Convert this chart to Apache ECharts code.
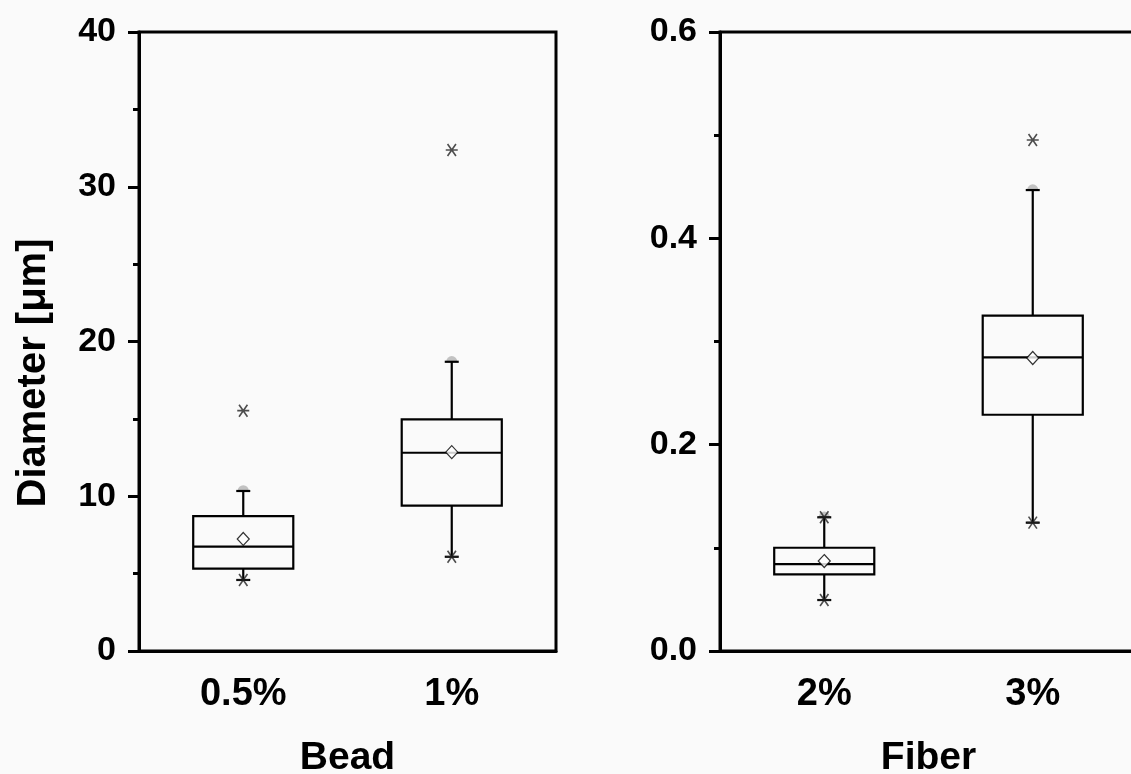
<!DOCTYPE html>
<html>
<head>
<meta charset="utf-8">
<script src="https://cdn.jsdelivr.net/npm/echarts@6/dist/echarts.min.js"></script>
<style>
  html, body { margin: 0; padding: 0; background: #fafafa; }
  #chart { width: 1131px; height: 774px; }
</style>
</head>
<body>
<div id="chart"></div>
<script>
// left panel: Bead
var beadCats = ['0.5%', '1%'];
var beadLow = [4.59, 6.09];
var beadQ1 = [5.32, 9.39];
var beadMedian = [6.74, 12.81];
var beadQ3 = [8.72, 14.97];
var beadHigh = [10.34, 18.69];
var beadMean = [7.24, 12.85];
var beadMax = [15.53, 32.37];
var beadTicks = [0, 10, 20, 30, 40];

// right panel: Fiber
var fiberCats = ['2%', '3%'];
var fiberLow = [0.0494, 0.1244];
var fiberQ1 = [0.0743, 0.229];
var fiberMedian = [0.0843, 0.2847];
var fiberQ3 = [0.1001, 0.325];
var fiberHigh = [0.1296, 0.4468];
var fiberMean = [0.0872, 0.284];
var fiberMax = [0.1296, 0.4953];
var fiberTicks = [0, 0.2, 0.4, 0.6];

var FONT = 'Liberation Sans';
var asterisk = 'path://M0,10L20,10M3,3L17,17M17,3L3,17';
var halfDisc = 'path://M0,10A10,10 0 0 1 20,10Z';

function boxRows(low, q1, med, q3, high) {
    return low.map(function (v, i) { return [i, v, q1[i], med[i], q3[i], high[i]]; });
}
function points(vals) {
    return vals.map(function (v, i) { return [i, v]; });
}

function renderBox(params, api) {
    var idx = api.value(0);
    var low = api.coord([idx, api.value(1)]);
    var q1 = api.coord([idx, api.value(2)]);
    var med = api.coord([idx, api.value(3)]);
    var q3 = api.coord([idx, api.value(4)]);
    var high = api.coord([idx, api.value(5)]);
    var half = api.size([1, 0])[0] * 0.24;
    var cap = 7;
    var x = med[0];
    var st = { stroke: '#000', lineWidth: 2.2, fill: null };
    return {
        type: 'group',
        children: [
            { type: 'line', shape: { x1: x, y1: high[1], x2: x, y2: q3[1] }, style: st },
            { type: 'line', shape: { x1: x, y1: q1[1], x2: x, y2: low[1] }, style: st },
            { type: 'line', shape: { x1: x - cap, y1: high[1], x2: x + cap, y2: high[1] }, style: st },
            { type: 'line', shape: { x1: x - cap, y1: low[1], x2: x + cap, y2: low[1] }, style: st },
            { type: 'rect', shape: { x: x - half, y: q3[1], width: half * 2, height: q1[1] - q3[1] }, style: st },
            { type: 'line', shape: { x1: x - half, y1: med[1], x2: x + half, y2: med[1] }, style: st }
        ]
    };
}

function xAxisFor(cats, gridIndex, name) {
    return {
        type: 'category', gridIndex: gridIndex, data: cats, boundaryGap: true,
        name: name, nameLocation: 'middle', nameGap: 88,
        nameTextStyle: { fontFamily: FONT, fontWeight: 'bold', fontSize: 39, color: '#000' },
        axisLine: { onZero: false, lineStyle: { color: '#000', width: 3 } },
        axisTick: { alignWithLabel: true, length: 12, lineStyle: { color: '#000', width: 3 } },
        axisLabel: { margin: 25, fontFamily: FONT, fontWeight: 'bold', fontSize: 38, color: '#000' },
        splitLine: { show: false }
    };
}

function yAxisFor(ticks, gridIndex, fmt) {
    return {
        type: 'value', gridIndex: gridIndex,
        min: ticks[0], max: ticks[ticks.length - 1], interval: ticks[1] - ticks[0],
        axisLine: { show: true, lineStyle: { color: '#000', width: 3 } },
        axisTick: { show: true, length: 11, lineStyle: { color: '#000', width: 3 } },
        minorTick: { show: true, splitNumber: 2, length: 6, lineStyle: { color: '#000', width: 3 } },
        axisLabel: { margin: 23, fontFamily: FONT, fontWeight: 'bold', fontSize: 34, color: '#000', formatter: fmt },
        splitLine: { show: false }
    };
}

function seriesFor(idx, low, q1, med, q3, high, mean, max) {
    return [
        {
            type: 'scatter', xAxisIndex: idx, yAxisIndex: idx, z: 1,
            symbol: halfDisc, symbolSize: [11, 5.5], symbolOffset: [0, -3],
            itemStyle: { color: '#b4b4b4' },
            data: points(high), silent: true
        },
        {
            type: 'custom', xAxisIndex: idx, yAxisIndex: idx, z: 2,
            renderItem: renderBox,
            encode: { x: 0, y: [1, 2, 3, 4, 5] },
            data: boxRows(low, q1, med, q3, high)
        },
        {
            type: 'scatter', xAxisIndex: idx, yAxisIndex: idx, z: 3,
            symbol: 'diamond', symbolSize: [12, 13],
            itemStyle: { color: '#fff', borderColor: '#000', borderWidth: 1.2 },
            data: points(mean)
        },
        {
            type: 'scatter', xAxisIndex: idx, yAxisIndex: idx, z: 3,
            symbol: asterisk, symbolSize: 12,
            itemStyle: { color: 'none', borderColor: '#222', borderWidth: 1.6 },
            data: points(max).concat(points(low))
        }
    ];
}

var chart = echarts.init(document.getElementById('chart'));
var option = {
    backgroundColor: '#fafafa',
    animation: false,
    grid: [
        { left: 139, top: 32, width: 417, height: 619, outerBoundsMode: 'none', containLabel: false,
          show: true, borderColor: '#000', borderWidth: 3, backgroundColor: 'transparent' },
        { left: 720, top: 32, width: 417, height: 619, outerBoundsMode: 'none', containLabel: false,
          show: true, borderColor: '#000', borderWidth: 3, backgroundColor: 'transparent' }
    ],
    xAxis: [xAxisFor(beadCats, 0, 'Bead'), xAxisFor(fiberCats, 1, 'Fiber')],
    yAxis: [
        yAxisFor(beadTicks, 0, function (v) { return String(v); }),
        yAxisFor(fiberTicks, 1, function (v) { return v.toFixed(1); })
    ],
    graphic: [{
        type: 'text', x: 34, y: 373, rotation: Math.PI / 2,
        style: {
            text: 'Diameter [μm]', fontFamily: FONT, fontWeight: 'bold', fontSize: 40,
            fill: '#000', textAlign: 'center', textVerticalAlign: 'middle'
        }
    }],
    series: [].concat(
        seriesFor(0, beadLow, beadQ1, beadMedian, beadQ3, beadHigh, beadMean, beadMax),
        seriesFor(1, fiberLow, fiberQ1, fiberMedian, fiberQ3, fiberHigh, fiberMean, fiberMax)
    )
};
chart.setOption(option);
</script>
</body>
</html>
